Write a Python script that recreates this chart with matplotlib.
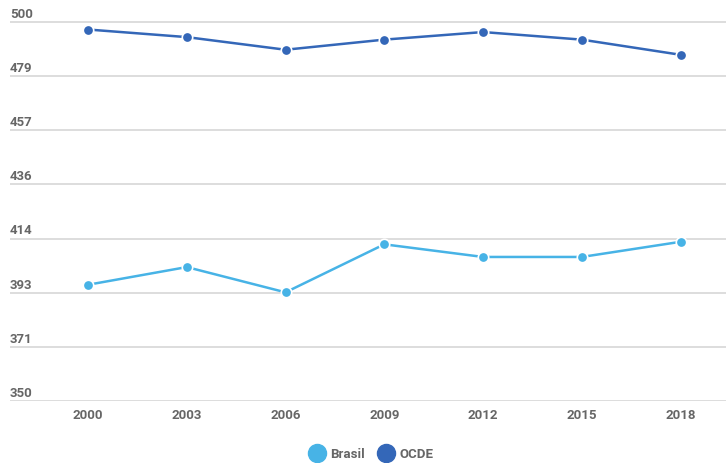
import matplotlib.pyplot as plt
from matplotlib.lines import Line2D

# PISA reading scores
YEARS = ["2000", "2003", "2006", "2009", "2012", "2015", "2018"]
BRASIL = [396, 403, 393, 412, 407, 407, 413]
OCDE = [497, 494, 489, 493, 496, 493, 487]
Y_TICKS = [350 + k * 150 / 7 for k in range(8)]
Y_LABELS = ["350", "371", "393", "414", "436", "457", "479", "500"]

C_BRASIL = "#47b3e6"
C_OCDE = "#3467b8"
GRID = "#dddddd"
TXT = "#666666"

plt.rcParams["font.family"] = ["Roboto", "DejaVu Sans"]

fig = plt.figure(figsize=(7.26, 4.64), dpi=100)
ax = fig.add_axes([10 / 726, 62 / 464, 716 / 726, 397 / 464])

x = list(range(len(YEARS)))
for vals, col in [(BRASIL, C_BRASIL), (OCDE, C_OCDE)]:
    ax.plot(x, vals, color=col, lw=1.8, marker="o", ms=7.5,
            mfc=col, mec="white", mew=1.2, zorder=3, clip_on=False)

for yv, lab in zip(Y_TICKS, Y_LABELS):
    ax.axhline(yv, color=GRID, lw=1.4, zorder=1)
    ax.text(0.0, yv + 3.4, lab, transform=ax.get_yaxis_transform(),
            ha="left", va="center", fontsize=9.5, color=TXT, fontweight="bold")

ax.set_xlim(-0.79, 6.46)
ax.set_ylim(350, 507.1)
ax.set_xticks(x)
ax.set_xticklabels(YEARS)
ax.tick_params(axis="x", length=0, pad=5, labelsize=9.5, labelcolor=TXT)
for t in ax.get_xticklabels():
    t.set_fontweight("bold")
ax.set_yticks([])
for s in ax.spines.values():
    s.set_visible(False)

handles = [
    Line2D([], [], ls="", marker="o", ms=13, mfc=C_BRASIL, mec=C_BRASIL),
    Line2D([], [], ls="", marker="o", ms=13, mfc=C_OCDE, mec=C_OCDE),
]
leg = fig.legend(handles, ["Brasil", "OCDE"], loc="center",
                 bbox_to_anchor=(371 / 726, 1 - 455 / 464), ncol=2,
                 frameon=False, fontsize=9.5, handletextpad=0.4,
                 columnspacing=1.0, handlelength=1.2)
for t in leg.get_texts():
    t.set_color(TXT)
    t.set_fontweight("bold")

fig.savefig("out.png", dpi=100)
